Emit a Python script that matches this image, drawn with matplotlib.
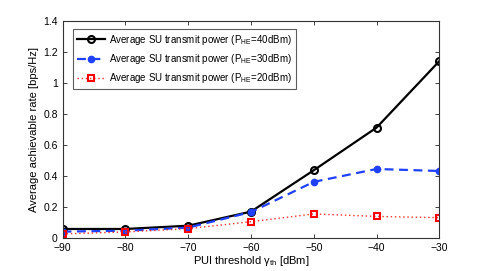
import matplotlib
matplotlib.use("Agg")
import matplotlib.pyplot as plt
from matplotlib.ticker import FixedLocator, FuncFormatter

x = [-90, -80, -70, -60, -50, -40, -30]
p40 = [0.056, 0.056, 0.077, 0.168, 0.435, 0.71, 1.139]
p30 = [0.039, 0.045, 0.065, 0.165, 0.36, 0.443, 0.43]
p20 = [0.024, 0.037, 0.058, 0.103, 0.153, 0.137, 0.129]
labels = [r"Average SU transmit power (P$_{\mathrm{HE}}$=40dBm)",
          r"Average SU transmit power (P$_{\mathrm{HE}}$=30dBm)",
          r"Average SU transmit power (P$_{\mathrm{HE}}$=20dBm)"]
yticks = [0, 0.2, 0.4, 0.6, 0.8, 1.0, 1.2, 1.4]

plt.rcParams['font.family'] = ['Liberation Sans', 'DejaVu Sans']
plt.rcParams['mathtext.fontset'] = 'custom'
plt.rcParams['mathtext.rm'] = 'Liberation Sans'
plt.rcParams['mathtext.it'] = 'Liberation Sans:italic'

fig = plt.figure(figsize=(4.85, 2.71), dpi=100)
ax = fig.add_axes([0.129, 0.123, 0.777, 0.801])

ax.plot(x, p40, color='black', lw=1.6, marker='o', ms=5, mfc='none', mew=1.5, label=labels[0])
ax.plot(x, p30, color='#2040ff', lw=1.6, ls=(0, (4, 2.5)), marker='o', ms=4.5, mfc='#2040ff', mew=1, label=labels[1])
ax.plot(x, p20, color='#ff3030', lw=1.0, ls=(0, (1, 2)), marker='s', ms=4.5, mfc='none', mec='red', mew=1.5, label=labels[2])

ax.set_xlim(-90, -30)
ax.set_ylim(0, 1.4)
ax.xaxis.set_major_locator(FixedLocator(x))
ax.yaxis.set_major_locator(FixedLocator(yticks))
ax.yaxis.set_major_formatter(FuncFormatter(lambda v, p: f"{v:g}"))
ax.xaxis.set_major_formatter(FuncFormatter(lambda v, p: f"\u2212{abs(int(v))}"))
ax.tick_params(direction='in', length=3, width=0.6, labelsize=7.5, top=True, right=True, colors='#222222', labelcolor='black')
for s in ax.spines.values():
    s.set_linewidth(0.8)
    s.set_color('#333333')

ax.set_xlabel(r"PUI threshold $\mathrm{\gamma}_{\mathrm{th}}$ [dBm]", fontsize=8, labelpad=1)
ax.set_ylabel("Average achievable rate [bps/Hz]", fontsize=8, labelpad=3)

leg = ax.legend(loc='upper left', bbox_to_anchor=(0.028, 0.962), fontsize=7.0, frameon=True, fancybox=False,
                edgecolor='#333333', handlelength=2.9, handletextpad=0.4, borderpad=0.4, labelspacing=0.55,
                borderaxespad=0)
leg.get_frame().set_linewidth(0.8)

fig.savefig("out.png", dpi=100)
